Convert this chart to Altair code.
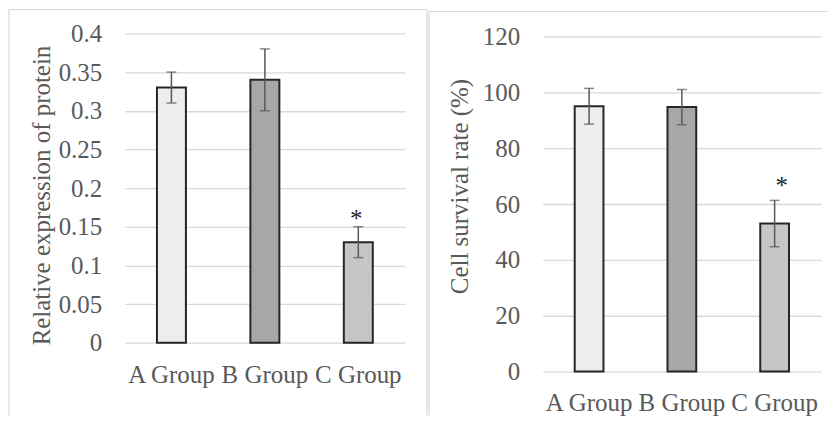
import altair as alt
import pandas as pd

groups = ["A Group", "B Group", "C Group"]
protein_mean = [0.33, 0.34, 0.13]
protein_err = [0.02, 0.04, 0.02]
survival_mean = [95.0, 94.7, 53.0]
survival_err = [6.4, 6.3, 8.3]
bar_fills = ["#ededed", "#a7a7a7", "#c6c6c6"]
markers = ["", "", "*"]
protein_ticks = [0, 0.05, 0.1, 0.15, 0.2, 0.25, 0.3, 0.35, 0.4]
survival_ticks = [0, 20, 40, 60, 80, 100, 120]

FONT = "Liberation Serif"
TXT = "#595959"


def panel(mean, err, ticks, title, w, h, top, title_y, x_pad, star_dx, star_dy, frame):
    df = pd.DataFrame({"group": groups, "mean": mean, "err": err,
                       "mark": markers, "fill": bar_fills})
    base = alt.Chart(df).transform_calculate(
        lo="datum.mean - datum.err", hi="datum.mean + datum.err")
    yscale = alt.Scale(domain=[ticks[0], ticks[-1]], nice=False,
                       range=[h, top])
    xscale = alt.Scale(paddingInner=0.69, paddingOuter=0.345)
    xaxis = alt.Axis(title=None, labelAngle=0, labelPadding=x_pad,
                     labelBaseline="top", domain=False, ticks=False,
                     grid=False, labelFont=FONT, labelFontSize=25,
                     labelColor=TXT)
    yaxis = alt.Axis(values=ticks, tickCount=len(ticks), format="~f",
                     title=title, labelOverlap=False, labelFlush=False,
                     titleX=-83, titleY=title_y, titleBaseline="middle",
                     titleFont=FONT, titleFontSize=25,
                     titleFontWeight="normal", titleColor=TXT,
                     labelPadding=23, labelFont=FONT, labelFontSize=25,
                     labelColor=TXT, domain=False, ticks=False,
                     grid=True, gridColor="#d9d9d9", gridWidth=1.3)

    def X():
        return alt.X("group:N", sort=groups, scale=xscale, axis=xaxis)

    def Y(field):
        return alt.Y(field, scale=yscale, axis=yaxis, title=title)

    bars = base.mark_bar(stroke="#262626", strokeWidth=2).encode(
        x=X(), y=Y("mean:Q"), fill=alt.Fill("fill:N", scale=None))
    rule = base.mark_rule(color=TXT, strokeWidth=1.5).encode(
        x=X(), y=Y("lo:Q"), y2="hi:Q")
    cap_lo = base.mark_tick(orient="horizontal", size=10, thickness=1.5,
                            color=TXT).encode(x=X(), y=Y("lo:Q"))
    cap_hi = base.mark_tick(orient="horizontal", size=10, thickness=1.5,
                            color=TXT).encode(x=X(), y=Y("hi:Q"))
    star = base.mark_text(font=FONT, fontSize=25, color="#262626",
                          baseline="alphabetic", dx=star_dx, dy=star_dy).encode(
        x=X(), y=Y("hi:Q"), text="mark:N")
    one = alt.Chart(pd.DataFrame({"k": [0]}))
    frames = []
    for (x1, x2, y1, y2) in frame:
        frames.append(one.mark_rule(color="#d9d9d9", strokeWidth=1.2).encode(
            x=alt.value(x1), x2=alt.value(x2), y=alt.value(y1), y2=alt.value(y2)))
    return alt.layer(bars, rule, cap_lo, cap_hi, star, *frames).properties(
        width=w, height=h)


left = panel(protein_mean, protein_err, protein_ticks,
             "Relative expression of protein", 281, 310, 0, 162, 20, -2, 0,
             [(-116, 303, -24, -24), (-116, -116, -24, 383), (303, 303, -24, 383)])
right = panel(survival_mean, survival_err, survival_ticks,
              "Cell survival rate (%)", 279, 339, 3, 153, 19, 7, -6,
              [(-114, 285, -22, -22), (-114, -114, -22, 383)])

chart = alt.hconcat(left, right, spacing=0).configure_view(
    stroke=None).configure_axis(labelFont=FONT, titleFont=FONT).properties(
    padding={"left": 0, "top": 0, "right": 0, "bottom": 0})

chart.save("out.html", embed_options={"renderer": "svg", "actions": False})
